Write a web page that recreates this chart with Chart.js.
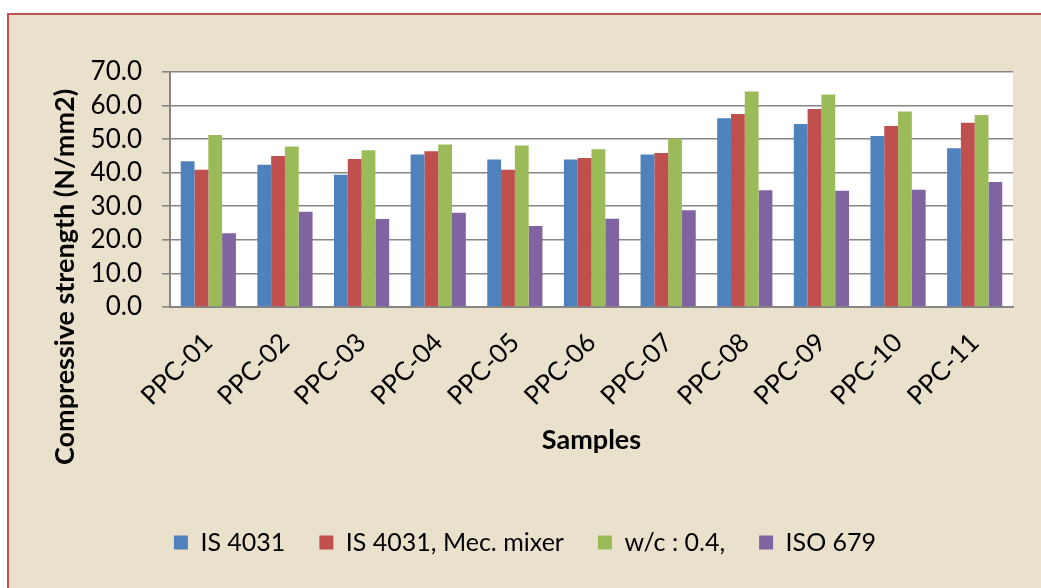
<!DOCTYPE html>
<html>
<head>
<meta charset="utf-8">
<script src="https://cdn.jsdelivr.net/npm/chart.js@4/dist/chart.umd.min.js"></script>
<style>
  html, body { margin: 0; padding: 0; background: #ffffff; overflow: hidden; }
  #frame {
    position: absolute; left: 7px; top: 13px;
    width: 1100px; height: 700px;
    background: #e9e1cc;
    border-left: 2px solid #c4514f;
    border-top: 2px solid #c4514f;
  }
  #wrap { position: absolute; left: 0; top: 0; width: 1032px; height: 600px; }
</style>
</head>
<body>
<div id="frame"><div id="wrap"><canvas id="chart"></canvas></div></div>
<script>
// muestras y resistencias (N/mm2)
const samples = ['PPC-01','PPC-02','PPC-03','PPC-04','PPC-05','PPC-06','PPC-07','PPC-08','PPC-09','PPC-10','PPC-11'];
const is4031 = [43.4, 42.4, 39.4, 45.4, 43.9, 43.9, 45.4, 56.2, 54.5, 50.9, 47.3];
const is4031Mixer = [40.9, 45.0, 44.1, 46.4, 40.9, 44.4, 45.9, 57.5, 59.0, 53.9, 54.9];
const wc04 = [51.2, 47.8, 46.7, 48.4, 48.1, 47.0, 50.2, 64.2, 63.3, 58.2, 57.2];
const iso679 = [22.0, 28.4, 26.2, 28.1, 24.1, 26.3, 28.8, 34.8, 34.6, 34.9, 37.2];
const yTicks = [0, 10, 20, 30, 40, 50, 60, 70];
const yTitle = 'Compressive strength (N/mm2)';

const FONT = 'Lato';

// fondo blanco solo en el area de la grafica
const plotBg = {
  id: 'plotBg',
  beforeDraw(chart) {
    const a = chart.chartArea;
    const ctx = chart.ctx;
    ctx.save();
    ctx.fillStyle = '#ffffff';
    ctx.fillRect(a.left, a.top, a.right - a.left, a.bottom - a.top);
    ctx.restore();
  }
};

// titulo del eje y, un poco mas abajo que el centro del area (como en Excel)
const yTitlePlugin = {
  id: 'yTitlePlugin',
  afterDraw(chart) {
    const ctx = chart.ctx;
    ctx.save();
    ctx.translate(56, 262);
    ctx.rotate(-Math.PI / 2);
    ctx.font = 'bold 27px ' + FONT;
    ctx.fillStyle = '#000';
    ctx.textAlign = 'center';
    ctx.textBaseline = 'middle';
    ctx.fillText(yTitle, 0, 0);
    ctx.restore();
  }
};

const ctx = document.getElementById('chart').getContext('2d');
new Chart(ctx, {
  type: 'bar',
  data: {
    labels: samples,
    datasets: [
      { label: 'IS 4031', data: is4031, backgroundColor: '#4f81bd' },
      { label: 'IS 4031, Mec. mixer', data: is4031Mixer, backgroundColor: '#c0504d' },
      { label: 'w/c : 0.4,', data: wc04, backgroundColor: '#9bbb59' },
      { label: 'ISO 679', data: iso679, backgroundColor: '#8064a2' }
    ]
  },
  options: {
    responsive: true,
    maintainAspectRatio: false,
    animation: false,
    layout: { padding: { top: 57, right: 28, left: 28, bottom: 50 } },
    datasets: { bar: { categoryPercentage: 0.72, barPercentage: 1.0 } },
    plugins: {
      tooltip: { enabled: false },
      legend: {
        position: 'bottom',
        labels: {
          font: { family: FONT, size: 25 },
          color: '#000',
          boxWidth: 14,
          boxHeight: 14,
          padding: 34
        }
      }
    },
    scales: {
      x: {
        grid: { display: false },
        border: { display: true, color: '#868686', width: 2 },
        ticks: {
          font: { family: FONT, size: 26 },
          color: '#000',
          minRotation: 45,
          maxRotation: 45,
          autoSkip: false,
          padding: 12
        },
        title: {
          display: true,
          text: 'Samples',
          font: { family: FONT, size: 27, weight: 'bold' },
          color: '#000',
          padding: { top: 0, bottom: 40 }
        },
        afterFit(scale) { scale.height = 189; }
      },
      y: {
        min: 0,
        max: 70,
        afterBuildTicks(scale) { scale.ticks = yTicks.map(v => ({ value: v })); },
        grid: { color: '#868686', lineWidth: 1.6, tickLength: 8, drawTicks: true },
        border: { display: true, color: '#868686', width: 2 },
        ticks: {
          font: { family: FONT, size: 26 },
          color: '#000',
          padding: 20,
          autoSkip: false,
          callback: v => Number(v).toFixed(1)
        },
        title: { display: false },
        afterFit(scale) { scale.width = 133; }
      }
    }
  },
  plugins: [plotBg, yTitlePlugin]
});
</script>
</body>
</html>
